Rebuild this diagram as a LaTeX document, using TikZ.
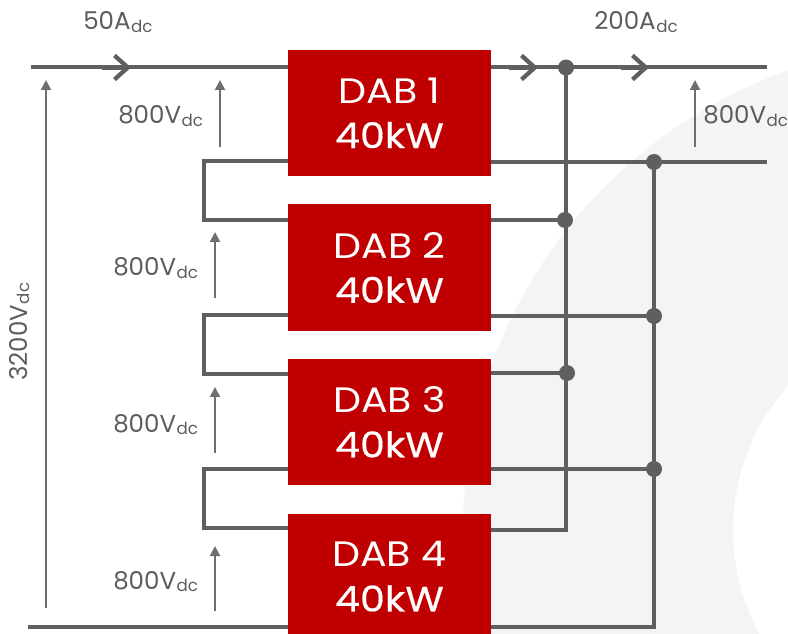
\documentclass[tikz,border=0pt]{standalone}
\usepackage{fontspec}
\setmainfont{Poppins}
\newfontfamily\widefont[FakeStretch=1.12]{Poppins}
\newfontfamily\boldwide[FakeStretch=1.12,FakeBold=0.5]{Poppins}
\definecolor{wire}{HTML}{5F5F5F}
\definecolor{volt}{HTML}{6E6E6E}
\definecolor{txt}{HTML}{5C5C5C}
\definecolor{dabred}{HTML}{C00000}
\definecolor{bgarc}{HTML}{F4F4F4}
\usetikzlibrary{arrows.meta}
\tikzset{
  x=0.75pt,y=-0.75pt,
  wireline/.style={draw=wire,line width=3pt,line join=miter},
  dabbox/.style={fill=dabred,minimum width=152pt,minimum height=94.5pt,inner sep=0pt,text=white,align=center,font=\fontsize{26.5}{33.5}\selectfont},
  voltarrow/.style={draw=volt,line width=1.5pt,-{Triangle[length=7.5pt,width=7.5pt]}},
  label/.style={text=txt,font=\fontsize{18.4}{22}\selectfont,inner sep=0pt,anchor=base west},
  junction/.style={circle,fill=wire,minimum size=12pt,inner sep=0pt},
  chev/.style={draw=wire,line width=3.4pt,-{Straight Barb[length=10pt,width=18pt,line width=3.2pt]}}
}
\newcommand{\subdc}{\kern0.4pt\raisebox{-1.8pt}{\fontsize{12.5}{14}\selectfont dc}}
\newcommand{\dab}[1]{{\widefont DAB #1}\\{\boldwide 40kW}}
\begin{document}
\begin{tikzpicture}
\useasboundingbox (0,0) rectangle (788,634);
\clip (0,0) rectangle (788,634);
\fill[bgarc,even odd rule] (950,530) circle[radius=487] (950,530) circle[radius=217];
% DAB boxes
\node[dabbox] (d1) at (389.5,113) {\dab{1}};
\node[dabbox] (d2) at (389.5,267.5) {\dab{2}};
\node[dabbox] (d3) at (389.5,422) {\dab{3}};
\node[dabbox] (d4) at (389.5,576.5) {\dab{4}};
% helper coordinates
\coordinate (inL) at (31,67.5);
\coordinate (outR) at (767,67.5);
\coordinate (midR) at (767,162);
\coordinate (outB) at (28,627);
\node[junction] (ja) at (566,67.5) {};
\node[junction] (jb) at (565,220) {};
\node[junction] (jc) at (567,373) {};
\node[junction] (jd) at (654,162) {};
\node[junction] (je) at (654,316) {};
\node[junction] (jf) at (654,469) {};
% input and output rails
\draw[wireline] (inL) -- (d1.west|-inL);
\draw[wireline] (d1.east|-outR) -- (outR);
\draw[wireline] (d1.east|-midR) -- (midR);
\draw[wireline] (outB) -- (d4.west|-outB);
% series links
\draw[wireline] (d1.west|-0,161.5) -| (204,220) -- (d2.west|-0,220);
\draw[wireline] (d2.west|-0,315) -| (204,374) -- (d3.west|-0,374);
\draw[wireline] (d3.west|-0,469) -| (204,528) -- (d4.west|-0,528);
% parallel outputs
\draw[wireline] (ja.center) -- (566,530) -- (d4.east|-0,530);
\draw[wireline] (d2.east|-jb) -- (jb.center);
\draw[wireline] (d3.east|-jc) -- (jc.center);
\draw[wireline] (jd.center) -- (654,626.5) -- (d4.east|-0,626.5);
\draw[wireline] (d2.east|-je) -- (je.center);
\draw[wireline] (d3.east|-jf) -- (jf.center);
% current chevrons
\coordinate (c1a) at (102,67.5); \coordinate (c1b) at (131,67.5);
\coordinate (c2a) at (509,67.5); \coordinate (c2b) at (538,67.5);
\coordinate (c3a) at (621,67.5); \coordinate (c3b) at (649,67.5);
\draw[chev] (c1a) -- (c1b);
\draw[chev] (c2a) -- (c2b);
\draw[chev] (c3a) -- (c3b);
% voltage arrows
\coordinate (v0a) at (46,608); \coordinate (v0b) at (46,80);
\coordinate (v1a) at (220,147); \coordinate (v1b) at (220,80);
\coordinate (v2a) at (215,298); \coordinate (v2b) at (215,232);
\coordinate (v3a) at (215,453); \coordinate (v3b) at (215,387);
\coordinate (v4a) at (215,611); \coordinate (v4b) at (215,546);
\coordinate (v5a) at (695,147); \coordinate (v5b) at (695,80);
\draw[voltarrow] (v0a) -- (v0b);
\draw[voltarrow] (v1a) -- (v1b);
\draw[voltarrow] (v2a) -- (v2b);
\draw[voltarrow] (v3a) -- (v3b);
\draw[voltarrow] (v4a) -- (v4b);
\draw[voltarrow] (v5a) -- (v5b);
% labels
\node[label] (t1) at (83,30) {50A\subdc};
\node[label] (t2) at (594,30) {200A\subdc};
\node[label] (t3) at (118,124) {800V\subdc};
\node[label] (t4) at (703,124) {800V\subdc};
\node[label] (t5) at (113,276) {800V\subdc};
\node[label] (t6) at (113,432) {800V\subdc};
\node[label] (t7) at (113,589) {800V\subdc};
\node[label,rotate=90] (t8) at (27,381) {3200V\subdc};
\end{tikzpicture}
\end{document}
